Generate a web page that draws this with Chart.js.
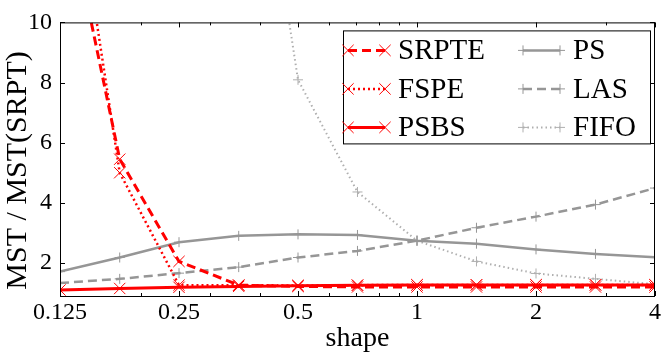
<!DOCTYPE html>
<html>
<head>
<meta charset="utf-8">
<script src="https://cdn.jsdelivr.net/npm/chart.js@4.4.1/dist/chart.umd.min.js"></script>
<style>
  html, body { margin: 0; padding: 0; background: #fff; }
  #wrap { width: 664px; height: 353px; }
</style>
</head>
<body>
<div id="wrap"><canvas id="mstChart" width="664" height="353"></canvas></div>
<script>
// shape parameter (x axis, log2 spaced)
var shapes = [0.125, 0.177, 0.25, 0.354, 0.5, 0.707, 1, 1.414, 2, 2.828, 4];

// MST / MST(SRPT) per policy
var srpte = [15, 5.45, 2.05, 1.26, 1.22, 1.2, 1.2, 1.2, 1.2, 1.2, 1.2];
var fspe  = [18, 5.0, 1.26, 1.26, 1.25, 1.26, 1.27, 1.27, 1.27, 1.27, 1.27];
var psbs  = [1.1, 1.15, 1.19, 1.22, 1.24, 1.26, 1.27, 1.27, 1.27, 1.27, 1.27];
var ps    = [1.71, 2.18, 2.69, 2.9, 2.95, 2.93, 2.74, 2.64, 2.45, 2.3, 2.19];
var las   = [1.33, 1.47, 1.66, 1.86, 2.18, 2.4, 2.74, 3.17, 3.54, 3.94, 4.49];
var fifo  = [150, 60, 40, 21, 8.09, 4.36, 2.74, 2.05, 1.65, 1.47, 1.29];

// axis ticks
var xTicks = [0.125, 0.25, 0.5, 1, 2, 4];
var xMinorTicks = [0.2, 0.3, 0.4, 0.6, 0.7, 0.8, 0.9, 3];
var yTicks = [2, 4, 6, 8, 10];

var RED = 'rgb(255, 0, 0)';
var GREY = 'rgb(150, 150, 150)';
var FONT = "'Liberation Serif', 'DejaVu Serif', serif";

function toPoints(values) {
    return values.map(function (v, i) { return { x: shapes[i], y: v }; });
}

function makeSet(label, values, color, dash, width, marker, radius) {
    return {
        label: label,
        data: toPoints(values),
        borderColor: color,
        borderWidth: width,
        borderDash: dash,
        pointStyle: marker,
        pointRadius: radius,
        pointBorderWidth: 1,
        pointBorderColor: color,
        pointBackgroundColor: 'rgba(0,0,0,0)',
        pointHoverRadius: radius,
        tension: 0,
        fill: false,
        clip: 0
    };
}

var datasets = [
    makeSet('SRPTE', srpte, RED, [9, 5], 3, 'crossRot', 8),
    makeSet('FSPE', fspe, RED, [2, 3], 2.5, 'crossRot', 8),
    makeSet('PSBS', psbs, RED, [], 3, 'crossRot', 8),
    makeSet('PS', ps, GREY, [], 2.5, 'cross', 5),
    makeSet('LAS', las, GREY, [9, 5], 2.5, 'cross', 5),
    makeSet('FIFO', fifo, 'rgb(175, 175, 175)', [1.5, 3], 2, 'cross', 5)
];

// frame with inward ticks, matplotlib style
var framePlugin = {
    id: 'frame',
    afterDatasetsDraw: function (chart) {
        var ctx = chart.ctx, a = chart.chartArea;
        var xs = chart.scales.x, ys = chart.scales.y;
        ctx.save();
        ctx.strokeStyle = '#000';
        ctx.lineWidth = 1;
        ctx.beginPath();
        xTicks.forEach(function (v) {
            var px = Math.round(xs.getPixelForValue(v)) + 0.5;
            ctx.moveTo(px, a.bottom); ctx.lineTo(px, a.bottom - 5);
            ctx.moveTo(px, a.top); ctx.lineTo(px, a.top + 5);
        });
        xMinorTicks.forEach(function (v) {
            var px = Math.round(xs.getPixelForValue(v)) + 0.5;
            ctx.moveTo(px, a.bottom); ctx.lineTo(px, a.bottom - 3);
            ctx.moveTo(px, a.top); ctx.lineTo(px, a.top + 3);
        });
        yTicks.forEach(function (v) {
            var py = Math.round(ys.getPixelForValue(v)) + 0.5;
            ctx.moveTo(a.left, py); ctx.lineTo(a.left + 5, py);
            ctx.moveTo(a.right, py); ctx.lineTo(a.right - 5, py);
        });
        ctx.stroke();
        ctx.strokeRect(a.left + 0.5, a.top + 0.5, a.right - a.left - 1, a.bottom - a.top);
        ctx.restore();
    }
};

function drawMarker(ctx, style, x, y, r) {
    ctx.beginPath();
    if (style === 'crossRot') {
        var d = r * Math.SQRT1_2;
        ctx.moveTo(x - d, y - d); ctx.lineTo(x + d, y + d);
        ctx.moveTo(x - d, y + d); ctx.lineTo(x + d, y - d);
    } else {
        ctx.moveTo(x - r, y); ctx.lineTo(x + r, y);
        ctx.moveTo(x, y - r); ctx.lineTo(x, y + r);
    }
    ctx.stroke();
}

// two-column legend inside the plot area
var legendPlugin = {
    id: 'boxLegend',
    afterDraw: function (chart) {
        var ctx = chart.ctx, a = chart.chartArea;
        var left = a.right - 312, top = a.top + 8, w = 307, h = 113;
        ctx.save();
        ctx.fillStyle = '#fff';
        ctx.fillRect(left, top, w, h);
        ctx.strokeStyle = '#000';
        ctx.lineWidth = 1;
        ctx.strokeRect(left + 0.5, top + 0.5, w, h);

        chart.data.datasets.forEach(function (ds, i) {
            var col = Math.floor(i / 3), row = i % 3;
            var hx = left + 5 + col * 175;
            var hy = top + 20 + row * 38.5;
            ctx.strokeStyle = ds.borderColor;
            ctx.lineWidth = ds.borderWidth;
            ctx.setLineDash(ds.borderDash);
            ctx.beginPath();
            ctx.moveTo(hx, hy); ctx.lineTo(hx + 37, hy);
            ctx.stroke();
            ctx.setLineDash([]);
            ctx.lineWidth = 1;
            drawMarker(ctx, ds.pointStyle, hx, hy, ds.pointRadius);
            drawMarker(ctx, ds.pointStyle, hx + 37, hy, ds.pointRadius);
            ctx.fillStyle = '#000';
            ctx.font = '29px ' + FONT;
            ctx.textBaseline = 'middle';
            ctx.textAlign = 'left';
            ctx.fillText(ds.label, hx + 50, hy + 1);
        });
        ctx.restore();
    }
};

var mstChart = new Chart(document.getElementById('mstChart'), {
    type: 'line',
    data: { datasets: datasets },
    options: {
        responsive: false,
        animation: false,
        devicePixelRatio: 1,
        layout: { padding: { top: 10, right: 7, left: 0, bottom: 0 } },
        plugins: {
            legend: { display: false },
            tooltip: { enabled: false }
        },
        scales: {
            x: {
                type: 'logarithmic',
                min: 0.125,
                max: 4,
                afterBuildTicks: function (scale) {
                    scale.ticks = xTicks.map(function (v) { return { value: v }; });
                },
                afterFit: function (scale) { scale.height = 57; },
                grid: { display: false, drawTicks: false },
                border: { display: false },
                ticks: {
                    autoSkip: false,
                    maxRotation: 0,
                    padding: 2,
                    color: '#000',
                    font: { family: FONT, size: 24 },
                    callback: function (v) { return String(v); }
                },
                title: {
                    display: true,
                    text: 'shape',
                    color: '#000',
                    padding: { top: 0, bottom: -2 },
                    font: { family: FONT, size: 28 }
                }
            },
            y: {
                type: 'linear',
                min: 0.9,
                max: 10,
                afterBuildTicks: function (scale) {
                    scale.ticks = yTicks.map(function (v) { return { value: v }; });
                },
                afterFit: function (scale) { scale.width = 60; },
                grid: { display: false, drawTicks: false },
                border: { display: false },
                ticks: {
                    padding: 8,
                    color: '#000',
                    font: { family: FONT, size: 24 }
                },
                title: {
                    display: true,
                    text: 'MST / MST(SRPT)\u00a0\u00a0\u00a0',
                    color: '#000',
                    padding: 0,
                    font: { family: FONT, size: 30 }
                }
            }
        }
    },
    plugins: [framePlugin, legendPlugin]
});
</script>
</body>
</html>
